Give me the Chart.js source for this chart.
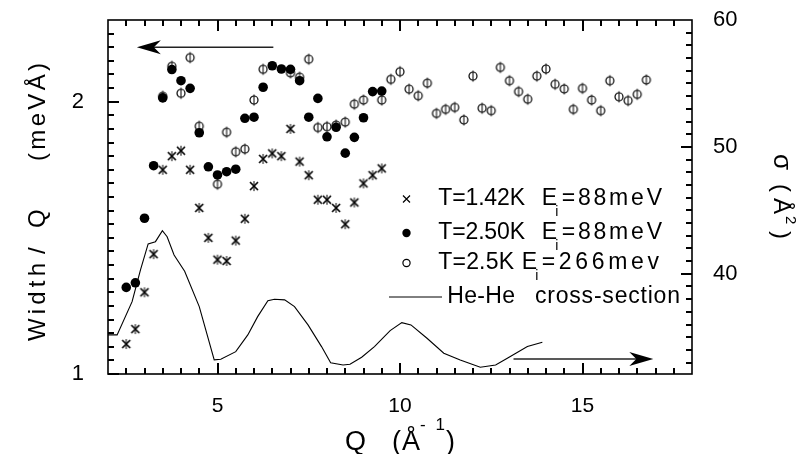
<!DOCTYPE html>
<html>
<head>
<meta charset="utf-8">
<script src="https://cdn.jsdelivr.net/npm/chart.js@4.4.1/dist/chart.umd.min.js"></script>
<style>
  html, body { margin: 0; padding: 0; background: #fff; }
  #wrap { width: 811px; height: 454px; }
</style>
</head>
<body>
<div id="wrap"><canvas id="chart" width="811" height="454"></canvas></div>
<script>
// --- data ---
// Q grid of the 88 meV runs
const qLow = [2.5, 2.75, 3.0, 3.25, 3.5, 3.75, 4.0, 4.25, 4.5, 4.75, 5.0, 5.25, 5.5, 5.75,
              6.0, 6.25, 6.5, 6.75, 7.0, 7.25, 7.5, 7.75, 8.0, 8.25, 8.5, 8.75, 9.0, 9.25, 9.5];
// T=1.42K, Ei=88meV
const width142 = [1.11, 1.165, 1.30, 1.44, 1.75, 1.80, 1.82, 1.75, 1.61, 1.50, 1.42, 1.415, 1.49, 1.57,
                  1.69, 1.79, 1.81, 1.80, 1.90, 1.78, 1.73, 1.64, 1.64, 1.61, 1.55, 1.63, 1.70, 1.73, 1.755];
// T=2.50K, Ei=88meV
const width250 = [1.318, 1.335, 1.572, 1.765, 2.014, 2.118, 2.077, 2.049, 1.886, 1.761, 1.731, 1.743, 1.752, 1.939,
                  1.943, 2.053, 2.132, 2.120, 2.119, 2.077, 1.943, 2.012, 1.871, 1.906, 1.811, 1.869, 1.941, 2.037, 2.039];
// T=2.5K, Ei=266meV
const qHigh = [3.5, 3.75, 4.0, 4.25, 4.5, 5.0, 5.25, 5.5, 5.75, 6.0, 6.25, 7.0, 7.25, 7.5, 7.75, 8.0,
               8.25, 8.5, 8.75, 9.0, 9.5, 9.75, 10.0, 10.25, 10.5, 10.75, 11.0, 11.25, 11.5, 11.75,
               12.0, 12.25, 12.5, 12.75, 13.0, 13.25, 13.5, 13.75, 14.0, 14.25, 14.5, 14.75, 15.0,
               15.25, 15.5, 15.75, 16.0, 16.25, 16.5, 16.75];
const width266 = [2.02, 2.13, 2.031, 2.162, 1.91, 1.697, 1.888, 1.816, 1.826, 2.006, 2.119, 2.106, 2.09, 2.156, 1.905, 1.908,
                  1.914, 1.925, 1.991, 2.006, 2.006, 2.082, 2.11, 2.046, 2.022, 2.068, 1.957, 1.972, 1.979, 1.933,
                  2.094, 1.976, 1.967, 2.126, 2.077, 2.037, 2.009, 2.094, 2.12, 2.064, 2.047, 1.972, 2.049,
                  2.006, 1.967, 2.077, 2.018, 2.004, 2.027, 2.08];
// He-He cross-section (right axis)
const qSigma = [2.0, 2.25, 2.66, 2.89, 3.1, 3.3, 3.49, 3.62, 3.81, 4.1, 4.5, 4.91, 5.09, 5.5, 5.83, 6.1,
                6.38, 6.56, 6.84, 7.11, 7.48, 7.85, 8.1, 8.44, 8.63, 8.95, 9.3, 9.73, 10.05, 10.3,
                10.74, 11.2, 11.65, 12.2, 12.62, 12.94, 13.49, 13.9];
const sigmaHeHe = [35.18, 35.18, 37.80, 40.30, 42.35, 42.53, 43.40, 42.92, 41.48, 40.2, 37.41, 33.21, 33.26, 33.86, 35.18, 36.62,
                   37.88, 37.99, 37.94, 37.41, 35.97, 34.26, 32.99, 32.81, 32.87, 33.42, 34.26, 35.52, 36.15, 35.97,
                   34.92, 33.74, 33.21, 32.63, 32.81, 33.34, 34.26, 34.60];

const qTicks = [5, 10, 15];
const widthTicks = [1, 2];
const sigmaTicks = [40, 50, 60];

// direction arrows, in data units
const leftArrow = { q1: 6.53, q2: 2.79, w: 2.20 };
const rightArrow = { q1: 13.11, q2: 16.94, s: 33.29 };

const FONT = '"Liberation Sans", Arial, Helvetica, sans-serif';

// --- point symbols ---
function makePhi() {
    const c = document.createElement('canvas');
    c.width = 12; c.height = 16;
    const g = c.getContext('2d');
    g.strokeStyle = '#000';
    g.lineWidth = 1.2;
    g.beginPath(); g.arc(6, 8, 4, 0, Math.PI * 2); g.stroke();
    g.lineWidth = 1;
    g.beginPath(); g.moveTo(6, 2.5); g.lineTo(6, 13.5); g.stroke();
    return c;
}

function makeStar() {
    const c = document.createElement('canvas');
    c.width = 12; c.height = 14;
    const g = c.getContext('2d');
    g.strokeStyle = '#000';
    g.lineWidth = 1.7;
    g.beginPath();
    g.moveTo(2, 3); g.lineTo(10, 11);
    g.moveTo(10, 3); g.lineTo(2, 11);
    g.stroke();
    g.lineWidth = 1;
    g.beginPath(); g.moveTo(6, 2); g.lineTo(6, 12); g.stroke();
    return c;
}

const phiImg = makePhi();
const starImg = makeStar();

function toPoints(xs, ys) {
    return xs.map((x, i) => ({ x: x, y: ys[i] }));
}

// --- drawing helpers ---
function range(from, to, step) {
    const out = [];
    for (let v = from; v <= to + 1e-9; v += step) out.push(Math.round(v * 1000) / 1000);
    return out;
}

// spread the characters of a string so that it runs from x0 to x1
function fitText(ctx, text, x0, x1, y) {
    const chars = Array.from(text);
    const widths = chars.map(c => ctx.measureText(c).width);
    const total = widths.reduce((s, w) => s + w, 0);
    const gap = chars.length > 1 ? (x1 - x0 - total) / (chars.length - 1) : 0;
    let x = x0;
    chars.forEach((c, i) => {
        ctx.fillText(c, x, y);
        x += widths[i] + gap;
    });
}

function drawArrow(ctx, x1, y1, x2, y2) {
    const dx = x2 - x1, dy = y2 - y1;
    const len = Math.hypot(dx, dy);
    const ux = dx / len, uy = dy / len;
    const px = -uy, py = ux;
    ctx.beginPath();
    ctx.moveTo(x1, y1);
    ctx.lineTo(x2 - ux * 16, y2 - uy * 16);
    ctx.stroke();
    ctx.beginPath();
    ctx.moveTo(x2, y2);
    ctx.lineTo(x2 - ux * 24 + px * 7, y2 - uy * 24 + py * 7);
    ctx.lineTo(x2 - ux * 17, y2 - uy * 17);
    ctx.lineTo(x2 - ux * 24 - px * 7, y2 - uy * 24 - py * 7);
    ctx.closePath();
    ctx.fill();
}

const framePlugin = {
    id: 'frame',
    beforeDraw(chart) {
        const ctx = chart.ctx;
        ctx.save();
        ctx.fillStyle = '#fff';
        ctx.fillRect(0, 0, chart.width, chart.height);
        ctx.restore();
    },
    afterDraw(chart) {
        const ctx = chart.ctx;
        const a = chart.chartArea;
        const xs = chart.scales.x, yl = chart.scales.y, yr = chart.scales.y2;
        ctx.save();
        ctx.strokeStyle = '#000';
        ctx.fillStyle = '#000';

        // box
        ctx.lineWidth = 1.6;
        ctx.strokeRect(a.left, a.top, a.right - a.left, a.bottom - a.top);

        // inward tick marks, top and bottom share the Q ticks
        const tw = 2;
        range(2.5, 17.5, 0.5).forEach(v => {
            const x = Math.round(xs.getPixelForValue(v));
            const l = qTicks.includes(v) ? 11 : 6;
            ctx.fillRect(x - tw / 2, a.bottom - l, tw, l);
            ctx.fillRect(x - tw / 2, a.top, tw, l);
        });
        range(1.05, 2.25, 0.05).concat(widthTicks).forEach(v => {
            const y = Math.round(yl.getPixelForValue(v));
            const l = widthTicks.includes(v) ? 11 : 6;
            ctx.fillRect(a.left, y - tw / 2, l, tw);
        });
        range(33, 59, 1).forEach(v => {
            const y = Math.round(yr.getPixelForValue(v));
            const l = sigmaTicks.includes(v) ? 11 : 6;
            ctx.fillRect(a.right - l, y - tw / 2, l, tw);
        });

        // arrows pointing to each axis
        ctx.lineWidth = 1.5;
        ctx.strokeStyle = '#222';
        drawArrow(ctx, xs.getPixelForValue(leftArrow.q1), yl.getPixelForValue(leftArrow.w),
                  xs.getPixelForValue(leftArrow.q2), yl.getPixelForValue(leftArrow.w));
        drawArrow(ctx, xs.getPixelForValue(rightArrow.q1), yr.getPixelForValue(rightArrow.s),
                  xs.getPixelForValue(rightArrow.q2), yr.getPixelForValue(rightArrow.s));

        // legend
        ctx.strokeStyle = '#000';
        ctx.textBaseline = 'middle';
        ctx.textAlign = 'left';
        const rows = [
            { y: 199, t: 'T=1.42K', tEnd: 525, ex: 541.7, rest: '=88meV', rx: 561.7, rEnd: 662 },
            { y: 233, t: 'T=2.50K', tEnd: 525, ex: 541.7, rest: '=88meV', rx: 561.7, rEnd: 662 },
            { y: 263, t: 'T=2.5K', tEnd: 514, ex: 521.7, rest: '=266mev', rx: 541.7, rEnd: 659 }
        ];
        rows.forEach(r => {
            ctx.font = '23px ' + FONT;
            fitText(ctx, r.t, 438.3, r.tEnd, r.y);
            ctx.fillText('E', r.ex, r.y);
            fitText(ctx, r.rest, r.rx, r.rEnd, r.y);
            ctx.font = '14px ' + FONT;
            ctx.fillText('i', r.ex + 13.5, r.y + 13);
        });
        // legend symbols
        ctx.lineWidth = 1.2;
        ctx.beginPath();
        ctx.moveTo(403, 195.5); ctx.lineTo(410, 202.5);
        ctx.moveTo(410, 195.5); ctx.lineTo(403, 202.5);
        ctx.stroke();
        ctx.beginPath(); ctx.arc(406.5, 233, 4.2, 0, Math.PI * 2); ctx.fill();
        ctx.beginPath(); ctx.arc(406.5, 263, 3.6, 0, Math.PI * 2); ctx.stroke();
        ctx.lineWidth = 1;
        ctx.beginPath(); ctx.moveTo(389, 297); ctx.lineTo(442, 297); ctx.stroke();
        ctx.font = '23px ' + FONT;
        fitText(ctx, 'He-He', 447.3, 515, 297);
        fitText(ctx, 'cross-section', 535, 680, 297);

        // bottom axis title: Q (Å^-1)
        ctx.textBaseline = 'alphabetic';
        ctx.font = '27px ' + FONT;
        ctx.fillText('Q', 345, 450);
        fitText(ctx, '(Å', 392, 420, 450);
        ctx.fillText(')', 446, 450);
        ctx.font = '17px ' + FONT;
        fitText(ctx, '- 1', 420, 445, 430);

        // left axis title
        ctx.save();
        ctx.translate(45, 0);
        ctx.rotate(-Math.PI / 2);
        ctx.font = '24px ' + FONT;
        fitText(ctx, 'Width', -341, -263, 0);
        ctx.fillText('/', -254, 0);
        ctx.fillText('Q', -228, 0);
        fitText(ctx, '(meVÅ)', -161, -63, 0);
        ctx.restore();

        // right axis title
        ctx.save();
        ctx.translate(774, 0);
        ctx.rotate(Math.PI / 2);
        ctx.font = '26px ' + FONT;
        ctx.fillText('σ', 154, 0);
        ctx.font = '24px ' + FONT;
        fitText(ctx, '(Å', 184, 214, 0);
        ctx.fillText(')', 231, 0);
        ctx.font = '15px ' + FONT;
        ctx.fillText('2', 216, -12);
        ctx.restore();

        ctx.restore();
    }
};

function fixedTicks(values) {
    return scale => { scale.ticks = values.map(v => ({ value: v })); };
}

// fixed axis sizes, without the extra room Chart.js keeps for edge labels
function fixedSize(prop, size) {
    return s => {
        s[prop] = size;
        s.paddingTop = 0; s.paddingBottom = 0;
        s.paddingLeft = 0; s.paddingRight = 0;
    };
}

const tickFont = { family: FONT, size: 22 };

new Chart(document.getElementById('chart'), {
    type: 'scatter',
    data: {
        datasets: [
            {
                label: 'T=1.42K Ei=88meV',
                data: toPoints(qLow, width142),
                pointStyle: starImg,
                yAxisID: 'y',
                order: 3
            },
            {
                label: 'T=2.50K Ei=88meV',
                data: toPoints(qLow, width250),
                pointStyle: 'circle',
                pointRadius: 4.8,
                backgroundColor: '#000',
                borderColor: '#000',
                borderWidth: 0,
                yAxisID: 'y',
                order: 2
            },
            {
                label: 'T=2.5K Ei=266mev',
                data: toPoints(qHigh, width266),
                pointStyle: phiImg,
                yAxisID: 'y',
                order: 1
            },
            {
                label: 'He-He cross-section',
                data: toPoints(qSigma, sigmaHeHe),
                showLine: true,
                borderColor: '#000',
                borderWidth: 1.1,
                pointRadius: 0,
                tension: 0,
                yAxisID: 'y2',
                order: 4
            }
        ]
    },
    options: {
        responsive: false,
        animation: false,
        events: [],
        layout: { padding: { top: 20, left: 0, right: 0, bottom: 0 } },
        plugins: { legend: { display: false }, tooltip: { enabled: false } },
        scales: {
            x: {
                type: 'linear',
                position: 'bottom',
                min: 2, max: 18,
                grid: { display: false, drawTicks: false },
                border: { display: false },
                afterBuildTicks: fixedTicks(qTicks),
                afterFit: fixedSize('height', 80),
                ticks: { color: '#000', font: { family: FONT, size: 21 }, padding: 20, maxRotation: 0 }
            },
            y: {
                type: 'linear',
                position: 'left',
                min: 1, max: 2.3,
                grid: { display: false, drawTicks: false },
                border: { display: false },
                afterBuildTicks: fixedTicks(widthTicks),
                afterFit: fixedSize('width', 108),
                ticks: { color: '#000', font: tickFont, padding: 24 }
            },
            y2: {
                type: 'linear',
                position: 'right',
                min: 32.1, max: 60,
                grid: { display: false, drawTicks: false },
                border: { display: false },
                afterBuildTicks: fixedTicks(sigmaTicks),
                afterFit: fixedSize('width', 119),
                ticks: { color: '#000', font: tickFont, padding: 21 }
            }
        }
    },
    plugins: [framePlugin]
});
</script>
</body>
</html>
